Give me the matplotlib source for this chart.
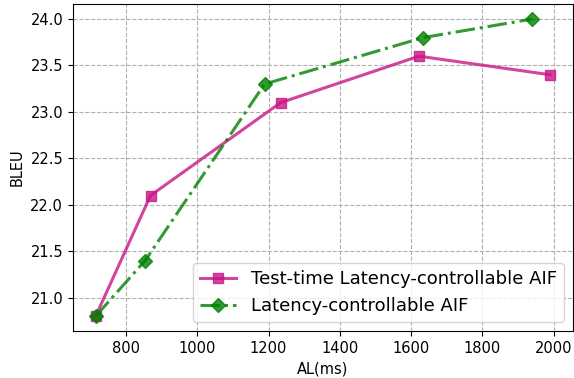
import matplotlib
matplotlib.use("Agg")
import matplotlib.pyplot as plt

# latency (AL, ms) vs BLEU for the two AIF variants
test_time_al = [715, 869, 1234, 1622, 1990]
test_time_bleu = [20.8, 22.1, 23.1, 23.6, 23.4]
lc_al = [715, 854, 1189, 1634, 1940]
lc_bleu = [20.8, 21.4, 23.3, 23.8, 24.0]

fig, ax = plt.subplots(figsize=(5.74, 3.78), dpi=100)
fig.subplots_adjust(left=0.127, right=0.998, top=0.989, bottom=0.124)

ax.plot(test_time_al, test_time_bleu, color='#c71585', alpha=0.8, linestyle='-',
        marker='s', markersize=7, linewidth=2.2, label='Test-time Latency-controllable AIF')
ax.plot(lc_al, lc_bleu, color='green', alpha=0.8, linestyle='-.',
        marker='D', markersize=7, linewidth=2.2, label='Latency-controllable AIF')

ax.set_xlabel('AL(ms)', fontsize=10.5)
ax.set_ylabel('BLEU', fontsize=10.5)
ax.tick_params(labelsize=10.5)
ax.grid(True, linestyle='--', color='#b0b0b0', linewidth=0.8)
ax.legend(loc='lower right', fontsize=13)

fig.savefig('out.png', dpi=100)
